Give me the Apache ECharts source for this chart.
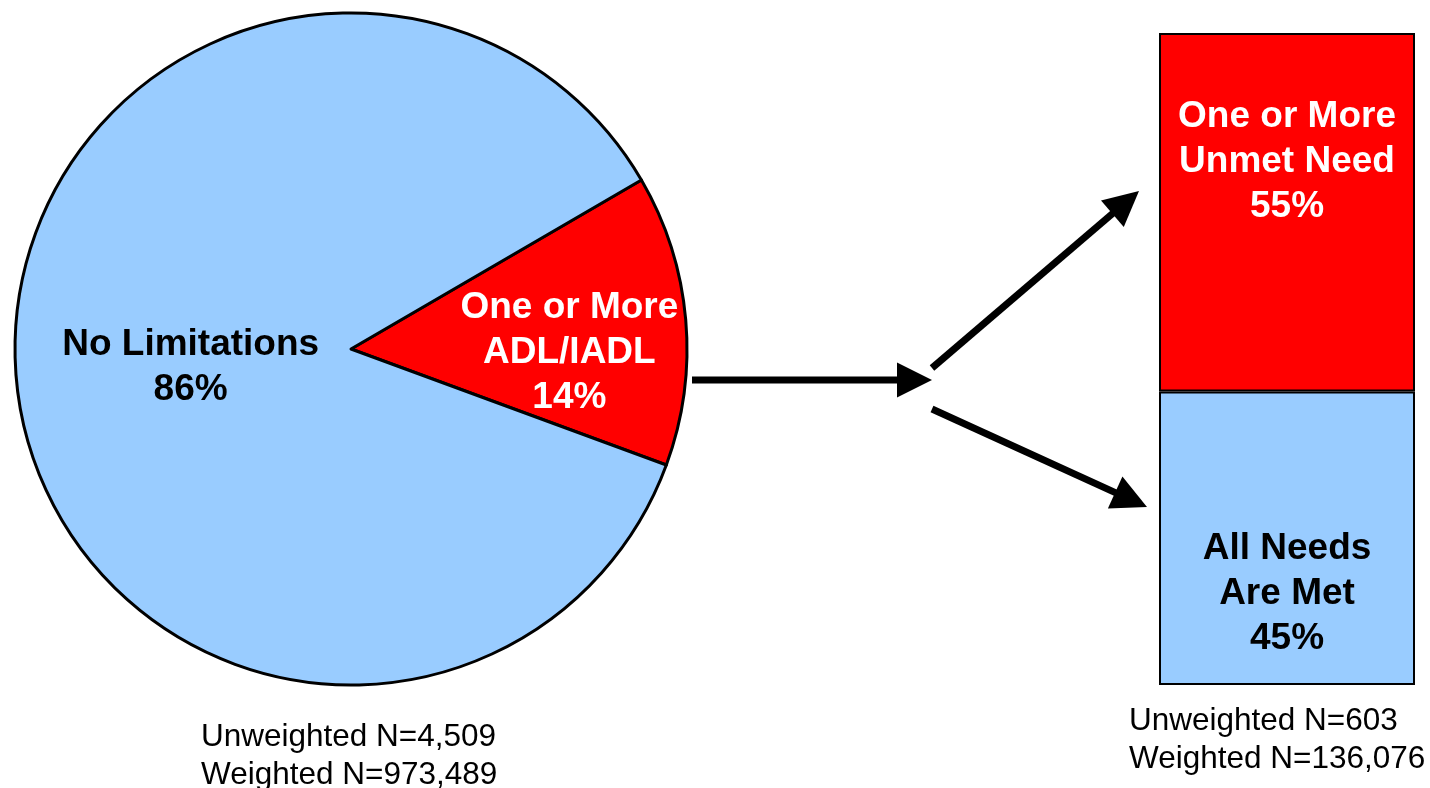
<!DOCTYPE html>
<html>
<head>
<meta charset="utf-8">
<script src="https://cdn.jsdelivr.net/npm/echarts@6/dist/echarts.min.js"></script>
<style>
html,body{margin:0;padding:0;background:#fff;}
#c{width:1430px;height:788px;}
</style>
</head>
<body>
<div id="c"></div>
<script>
// Data
var pieNames = ['One or More\nADL/IADL', 'No Limitations'];
var pieValues = [14, 86];
var barNames = ['All Needs\nAre Met', 'One or More\nUnmet Need'];
var barValues = [45, 55];
var pieNotes = ['Unweighted N=4,509', 'Weighted N=973,489'];
var barNotes = ['Unweighted N=603', 'Weighted N=136,076'];

var RED = '#FF0000', BLUE = '#99CCFF';
var FONT = '"Liberation Sans", Arial, sans-serif';

var chart = echarts.init(document.getElementById('c'));

function arrowHead(tip, from, len, half) {
  var dx = tip[0] - from[0], dy = tip[1] - from[1];
  var L = Math.sqrt(dx*dx + dy*dy);
  var ux = dx / L, uy = dy / L;
  var bx = tip[0] - len*ux, by = tip[1] - len*uy;
  return {
    base: [bx + ux*2, by + uy*2],
    pts: [[bx - half*uy, by + half*ux], tip, [bx + half*uy, by - half*ux]]
  };
}
function arrow(from, tip) {
  var h = arrowHead(tip, from, 35, 17.5);
  return [
    {type:'line', shape:{x1:from[0], y1:from[1], x2:h.base[0], y2:h.base[1]},
     style:{stroke:'#000', lineWidth:7}, z:10},
    {type:'polygon', shape:{points:h.pts}, style:{fill:'#000'}, z:10}
  ];
}

var graphics = [].concat(
  arrow([692, 380], [932, 380]),
  arrow([932, 368], [1139, 191]),
  arrow([932, 409], [1147, 507])
);

chart.setOption({
  animation: false,
  backgroundColor: '#fff',
  title: [
    {text: pieNotes.join('\n'), left: 201, top: 718, padding: 0,
     textStyle:{fontFamily:FONT, fontSize:31.5, fontWeight:'normal', color:'#000', lineHeight:38}},
    {text: barNotes.join('\n'), left: 1129, top: 702, padding: 0,
     textStyle:{fontFamily:FONT, fontSize:31.5, fontWeight:'normal', color:'#000', lineHeight:38}}
  ],
  grid: {left: 1159, top: 33, width: 256, height: 652},
  xAxis: {type:'category', data:['Need'], show:false},
  yAxis: {type:'value', min:0, max:100, show:false},
  series: [
    {
      type: 'pie',
      center: [351, 349],
      radius: 336,
      startAngle: 30.2,
      clockwise: true,
      itemStyle: {borderColor:'#000', borderWidth:3},
      label: {
        show: true, position: 'inside',
        formatter: function(p){ return p.name + '\n' + p.value + '%'; },
        fontFamily: FONT, fontSize: 37, fontWeight: 'bold', lineHeight: 45
      },
      labelLayout: function(p){
        if (p.dataIndex === 0) return {dx: 48, dy: 19};
        return {dx: 10, dy: 3};
      },
      emphasis: {disabled: true},
      data: [
        {name: pieNames[0], value: pieValues[0], itemStyle:{color:RED}, label:{color:'#fff'}},
        {name: pieNames[1], value: pieValues[1], itemStyle:{color:BLUE}, label:{color:'#000'}}
      ]
    },
    {
      type: 'bar', stack: 'n', barWidth: '100%', name: barNames[0],
      itemStyle: {color: BLUE, borderColor:'#000', borderWidth:2},
      label: {show:true, position:'inside', offset:[0, 55], color:'#000',
        formatter: function(p){ return barNames[0] + '\n' + p.value + '%'; },
        fontFamily: FONT, fontSize: 37, fontWeight: 'bold', lineHeight: 45},
      data: [barValues[0]]
    },
    {
      type: 'bar', stack: 'n', barWidth: '100%', name: barNames[1],
      itemStyle: {color: RED, borderColor:'#000', borderWidth:2},
      label: {show:true, position:'inside', offset:[0, -51], color:'#fff',
        formatter: function(p){ return barNames[1] + '\n' + p.value + '%'; },
        fontFamily: FONT, fontSize: 37, fontWeight: 'bold', lineHeight: 45},
      data: [barValues[1]]
    }
  ],
  graphic: graphics
});
</script>
</body>
</html>
